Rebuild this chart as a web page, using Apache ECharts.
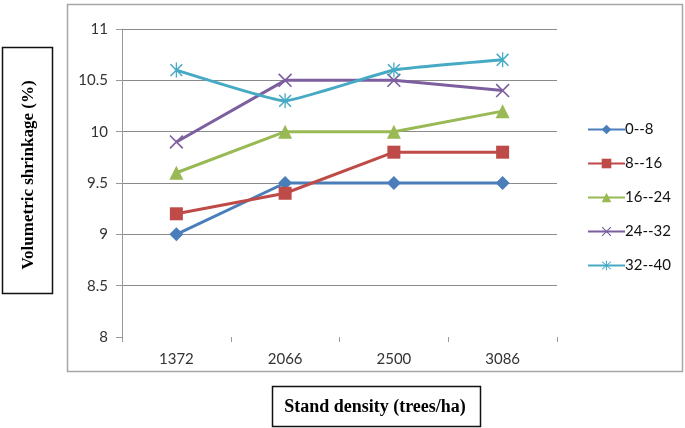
<!DOCTYPE html>
<html><head><meta charset="utf-8">
<script src="https://cdn.jsdelivr.net/npm/echarts@6/dist/echarts.min.js"></script>
<style>html,body{margin:0;padding:0;background:#fff}#c{width:685px;height:428px}</style>
</head><body><div id="c"></div>
<script>
const categories = ['1372', '2066', '2500', '3086'];
const seriesNames = ['0--8', '8--16', '16--24', '24--32', '32--40'];
const s0_8 = [9.0, 9.5, 9.5, 9.5];
const s8_16 = [9.2, 9.4, 9.8, 9.8];
const s16_24 = [9.6, 10.0, 10.0, 10.2];
const s24_32 = [9.9, 10.5, 10.5, 10.4];
const s32_40 = [10.6, 10.3, 10.6, 10.7];
const yTicks = [8, 8.5, 9, 9.5, 10, 10.5, 11];

const colors = ['#4a7ebb', '#be4b48', '#98b954', '#7d5fa0', '#46aac5'];
const xPath = 'path://M0,1 L1,0 L12,11 L11,12 Z M11,0 L12,1 L1,12 L0,11 Z';
const starPath = 'path://M0,1 L1,0 L12,11 L11,12 Z M11,0 L12,1 L1,12 L0,11 Z M5.4,-1 L6.6,-1 L6.6,13 L5.4,13 Z';
const symbols = ['diamond', 'rect', 'triangle', xPath, starPath];
const sizes = [14, 13, 14, 14, 15];
const dataSets = [s0_8, s8_16, s16_24, s24_32, s32_40];

const chart = echarts.init(document.getElementById('c'), null, {renderer: 'canvas'});
const font = 'Lato, "Open Sans", sans-serif';
chart.setOption({
  animation: false,
  grid: {left: 122, top: 29, right: 128, bottom: 91},
  legend: {
    orient: 'vertical', left: 582, top: 117, itemWidth: 37, itemHeight: 12, itemGap: 19,
    data: seriesNames,
    textStyle: {fontFamily: font, fontSize: 15, color: '#111', padding: [0,0,0,-5]}
  },
  xAxis: {
    type: 'category', data: categories, boundaryGap: true,
    axisLine: {show: false},
    axisTick: {show: true, length: 5, lineStyle: {color: '#999'}},
    axisLabel: {fontFamily: font, fontSize: 15, color: '#333', margin: 15}
  },
  yAxis: {
    type: 'value', min: 8, max: 11, interval: 0.5,
    axisLine: {show: true, lineStyle: {color: '#999'}},
    axisTick: {show: true, length: 6, lineStyle: {color: '#999'}},
    axisLabel: {fontFamily: font, fontSize: 15, color: '#333', margin: 14,
      formatter: v => String(yTicks.find(t => Math.abs(t - v) < 1e-9) ?? v)},
    splitLine: {show: true, lineStyle: {color: ['transparent','#8a8a8a','#8a8a8a','#8a8a8a','#8a8a8a','#8a8a8a','#8a8a8a'], width: 1}}
  },
  series: seriesNames.map((n, i) => ({
    name: n, type: 'line', data: dataSets[i],
    symbol: symbols[i], symbolSize: sizes[i], symbolKeepAspect: true,
    color: colors[i],
    lineStyle: {width: 3, color: colors[i]},
    itemStyle: {color: colors[i]},
    smooth: i === 4 ? 0.1 : false
  })),
  graphic: [
    {type: 'rect', shape: {x: 67.5, y: 4.5, width: 615, height: 367}, style: {fill: 'none', stroke: '#a6a6a6', lineWidth: 1.5}, z: -1},
    {type: 'rect', shape: {x: 2.5, y: 47.5, width: 50, height: 246}, style: {fill: '#fff', stroke: '#111', lineWidth: 1.5}},
    {type: 'text', x: 29, y: 175, rotation: Math.PI / 2, style: {text: 'Volumetric shrinkage (%)', font: 'bold 17px "Liberation Serif", "DejaVu Serif", serif', fill: '#000', align: 'center', verticalAlign: 'middle'}},
    {type: 'rect', shape: {x: 272.5, y: 386.5, width: 208, height: 40}, style: {fill: '#fff', stroke: '#111', lineWidth: 1.5}},
    {type: 'text', x: 375, y: 407, style: {text: 'Stand density (trees/ha)', font: 'bold 18px "Liberation Serif", "DejaVu Serif", serif', fill: '#000', align: 'center', verticalAlign: 'middle'}}
  ]
});
</script></body></html>
